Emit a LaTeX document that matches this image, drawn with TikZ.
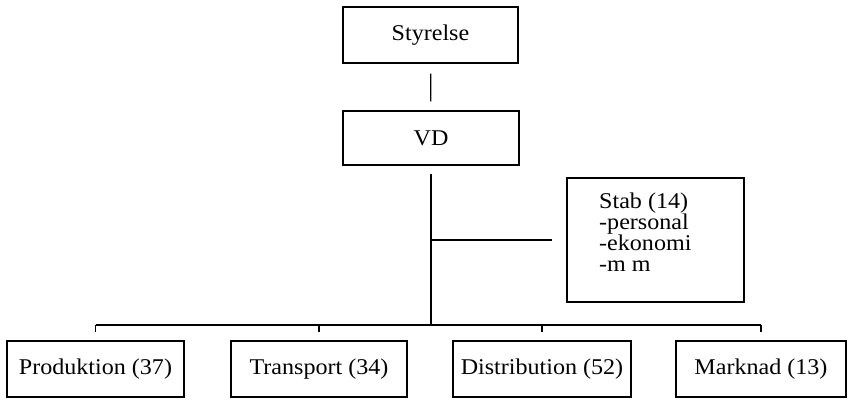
\documentclass[tikz,border=0pt]{standalone}
\usepackage{fontspec}
\setmainfont[FakeStretch=1.07]{Liberation Serif}
\usetikzlibrary{positioning}

\tikzset{
  orgbox/.style={draw, line width=1.3pt, minimum height=56pt, inner sep=0pt,
    font=\fontsize{22.5}{22.5}\selectfont},
  link/.style={line width=1.3pt}
}

\begin{document}
\begin{tikzpicture}[x=1pt, y=-1pt]
      \useasboundingbox (0,0) rectangle (848,400);

      % Top of the organisation
      \node[orgbox, minimum width=175pt] (styrelse) at (430.5,35) {Styrelse};
      \node[orgbox, minimum width=176pt, minimum height=54pt] (vd) at (431,138) {VD};

      % Staff box and its list
      \node[orgbox, minimum width=177pt, minimum height=124pt] (stab) at (655.5,240) {};
      \node[anchor=north west, inner sep=0pt, align=left,
        font=\fontsize{22.5}{21}\selectfont] (stablist) at (599,193)
        {Stab (14)\\-personal\\-ekonomi\\-m m};

      % Departments
      \node[orgbox, minimum width=177pt] (prod) at (95.5,369) {Produktion (37)};
      \node[orgbox, minimum width=176pt] (trans) at (319,369) {Transport (34)};
      \node[orgbox, minimum width=178pt] (dist) at (542,369) {Distribution (52)};
      \node[orgbox, minimum width=170pt] (mark) at (761,369) {Marknad (13)};

      % Bus line
      \coordinate (bus) at (0,325);

      % Connectors
      \draw[link, shorten <=10pt, shorten >=9pt] (styrelse) -- (vd);
      \draw[link, shorten <=8pt] (vd.south) -- (vd.south |- bus);
      \draw[link, shorten >=14pt] (vd.south |- stab.west) -- (stab.west);
      \draw[link] (prod.north |- bus) -- (mark.north |- bus);
      \foreach \d in {prod,trans,dist,mark}
        \draw[link, shorten >=8pt] (\d.north |- bus) -- (\d.north);
    \end{tikzpicture}
\end{document}
